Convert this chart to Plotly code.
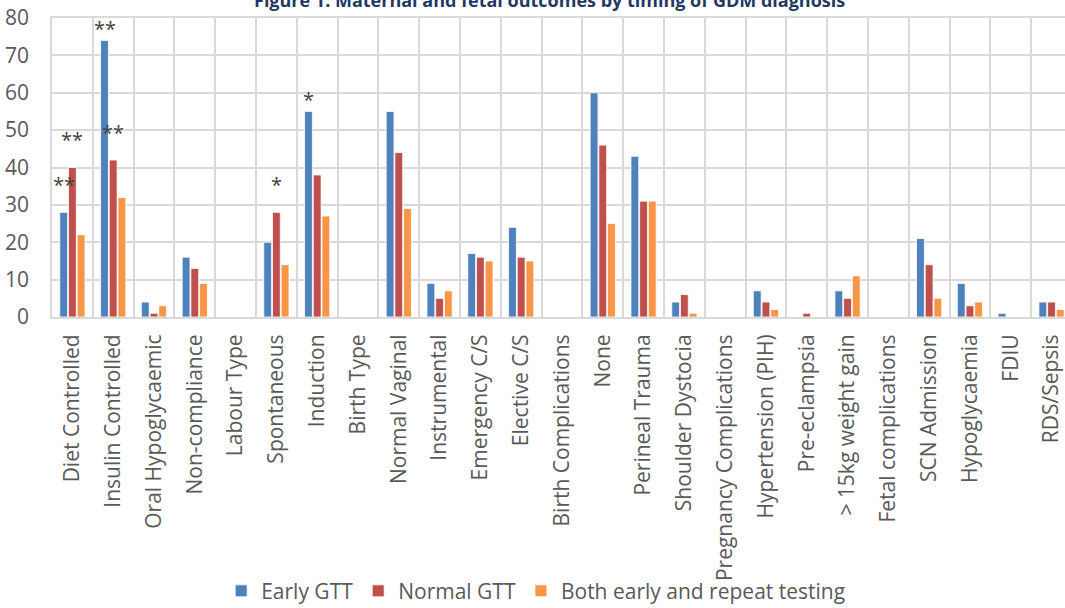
import plotly.graph_objects as go

categories = ["Diet Controlled", "Insulin Controlled", "Oral Hypoglycaemic", "Non-compliance",
              "Labour Type", "Spontaneous", "Induction", "Birth Type", "Normal Vaginal",
              "Instrumental", "Emergency C/S", "Elective C/S", "Birth Complications", "None",
              "Perineal Trauma", "Shoulder Dystocia", "Pregnancy Complications",
              "Hypertension (PIH)", "Pre-eclampsia", "> 15kg weight gain", "Fetal complications",
              "SCN Admission", "Hypoglycaemia", "FDIU", "RDS/Sepsis"]

early_gtt = [28, 74, 4, 16, 0, 20, 55, 0, 55, 9, 17, 24, 0, 60, 43, 4, 0, 7, 0, 7, 0, 21, 9, 1, 4]
normal_gtt = [40, 42, 1, 13, 0, 28, 38, 0, 44, 5, 16, 16, 0, 46, 31, 6, 0, 4, 1, 5, 0, 14, 3, 0, 4]
both_testing = [22, 32, 3, 9, 0, 14, 27, 0, 29, 7, 15, 15, 0, 25, 31, 1, 0, 2, 0, 11, 0, 5, 4, 0, 2]

series_names = ["Early GTT", "Normal GTT", "Both early and repeat testing"]
series_values = [early_gtt, normal_gtt, both_testing]
series_colors = ["#4F81BD", "#C0504D", "#F79646"]

# significance markers: (category, series index, label)
sig_categories = ["Diet Controlled", "Diet Controlled", "Insulin Controlled", "Insulin Controlled",
                  "Spontaneous", "Induction"]
sig_series = [0, 1, 0, 1, 1, 0]
sig_labels = ["**", "**", "**", "**", "*", "*"]

title_text = "Figure 1: Maternal and fetal outcomes by timing of GDM diagnosis"
y_ticks = [0, 10, 20, 30, 40, 50, 60, 70, 80]
Y_MAX = 80

FONT = "Open Sans, sans-serif"
GRID = "#D9D9D9"
TXT = "#595959"

fig = go.Figure()
for name, vals, col in zip(series_names, series_values, series_colors):
    fig.add_trace(go.Bar(x=categories, y=vals, name=name, marker_color=col,
                         marker_line_color="white", marker_line_width=0.8))

series_offset = [-0.21, 0.0, 0.21]
annotations = []
for cat, s, lab in zip(sig_categories, sig_series, sig_labels):
    ci = categories.index(cat)
    annotations.append(dict(x=ci + series_offset[s], y=(series_values[s][ci] + 8) / Y_MAX,
                            xref="x", yref="paper", text=lab, showarrow=False,
                            yshift=-2, font=dict(family=FONT, size=20, color="#404040")))

# chart title, partly above the visible page as in the reference
annotations.append(dict(x=0.491, y=1.061, xref="paper", yref="paper", xanchor="center",
                        yanchor="middle", showarrow=False, text="<b>" + title_text + "</b>",
                        font=dict(family=FONT, size=18, color="#1F3864")))

fig.update_layout(
    width=1065, height=608, autosize=False,
    margin=dict(l=52, r=0, t=18, b=291, autoexpand=False),
    paper_bgcolor="white", plot_bgcolor="white",
    barmode="group", bargap=0.36, bargroupgap=0.1,
    font=dict(family=FONT, color=TXT),
    legend=dict(orientation="h", x=0.167, xanchor="left", y=-0.917, yanchor="middle",
                font=dict(family=FONT, size=21, color=TXT), itemclick=False,
                traceorder="normal", bgcolor="rgba(0,0,0,0)"),
    annotations=annotations,
)

fig.update_xaxes(type="category", range=[-0.5, 24.33], tickson="boundaries", automargin=False,
                 showgrid=True, gridcolor=GRID, gridwidth=1.5,
                 showline=True, linecolor=GRID, linewidth=2, mirror=True,
                 ticks="", tickangle=-90, ticklabelstandoff=7, ticklabeloverflow="allow",
                 tickfont=dict(family=FONT, size=21, color=TXT))
fig.update_yaxes(range=[0, Y_MAX], tickvals=y_ticks, automargin=False,
                 showgrid=True, gridcolor=GRID, gridwidth=1.5,
                 zeroline=False, showline=True, linecolor=GRID, linewidth=1.5,
                 ticks="", ticklabelstandoff=17, ticklabeloverflow="allow",
                 tickfont=dict(family=FONT, size=21, color=TXT))

fig.write_html("out.html", config={"displayModeBar": False},
               post_script="document.body.style.margin='0px';")
